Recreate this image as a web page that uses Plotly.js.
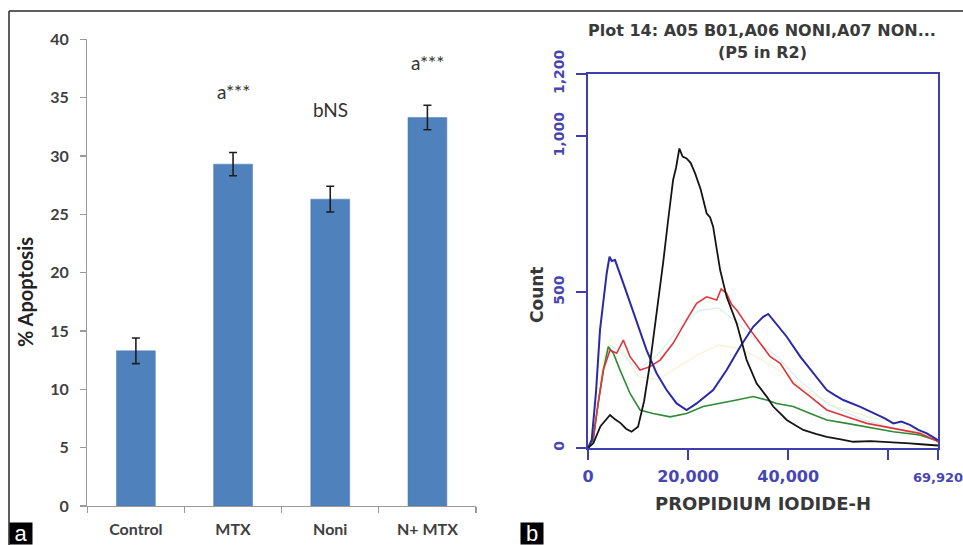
<!DOCTYPE html>
<html><head><meta charset="utf-8">
<script src="https://cdn.plot.ly/plotly-3.0.1.min.js"></script>
<style>body{margin:0;padding:0;background:#fff}#chart{width:963px;height:545px}</style>
</head><body><div id="chart"></div>
<script>
// ---- Panel a: % apoptosis ----
const groups = ["Control", "MTX", "Noni", "N+ MTX"];
const apoptosis = [13.3, 29.3, 26.3, 33.3];
const apoptosisErr = [1.1, 1.0, 1.1, 1.05];
const sigLabels = ["", "a***", "bNS", "a***"];
const sigLevel = [null, 35.5, 34.0, 38.0];
const apoTicks = [0, 5, 10, 15, 20, 25, 30, 35, 40];

// ---- Panel b: PI histogram overlay ----
const piTickVals = [0, 20000, 40000, 60000, 69920];
const piTickText = ["0", "20,000", "40,000", "", "69,920"];
const countTickVals = [0, 500, 1000, 1200];
const countTickText = ["0", "500", "1,000", "1,200"];

const blackX = [0, 1060, 2500, 4400, 5400, 6500, 7600, 8700, 10000, 11200, 12400, 13700, 15000, 16000, 17000, 17600, 18250, 18900, 19700, 20500, 21400, 22500, 23700, 24400, 25000, 25700, 26400, 27700, 29700, 31700, 33700, 35700, 37000, 38400, 39700, 41500, 43000, 45500, 47700, 50500, 53000, 56500, 59700, 62000, 64300, 66500, 68900, 69920];
const blackY = [0, 15, 70, 106, 92, 80, 62, 52, 68, 150, 272, 430, 593, 730, 860, 900, 961, 935, 929, 915, 881, 830, 753, 740, 710, 640, 571, 485, 400, 282, 207, 165, 133, 111, 90, 72, 58, 45, 36, 28, 20, 22, 20, 18, 15, 12, 10, 8];

const blueX = [0, 740, 1600, 2400, 3730, 4300, 4730, 5400, 7060, 9400, 11700, 13700, 15700, 17700, 19700, 21700, 23300, 25000, 27700, 30400, 33000, 35000, 36000, 37000, 39700, 42400, 45000, 47700, 49300, 51000, 54300, 56000, 57700, 59300, 61000, 62600, 64300, 66000, 67700, 69300, 69920];
const blueY = [0, 26, 180, 379, 560, 614, 600, 603, 528, 421, 314, 240, 186, 143, 122, 143, 165, 186, 250, 325, 389, 421, 430, 411, 357, 293, 240, 186, 170, 154, 133, 120, 106, 95, 79, 85, 74, 58, 47, 31, 25];

const redX = [0, 1060, 2000, 3060, 4400, 5730, 7060, 8400, 10400, 12400, 14400, 17000, 19700, 21700, 23700, 25700, 26600, 27700, 28700, 29700, 32400, 34400, 36400, 38400, 41000, 44400, 47700, 51700, 55700, 61000, 66300, 69300, 69920];
const redY = [0, 36, 140, 250, 314, 304, 346, 293, 250, 261, 282, 336, 411, 464, 485, 475, 510, 496, 460, 443, 379, 336, 293, 272, 207, 165, 122, 100, 79, 63, 47, 26, 20];

const greenX = [0, 1060, 2000, 3060, 4060, 5060, 6400, 8400, 10400, 13000, 16400, 19700, 23000, 26400, 29700, 33000, 35700, 37700, 41000, 44400, 47700, 51700, 55700, 61000, 66300, 69300, 69920];
const greenY = [0, 26, 140, 250, 325, 304, 250, 175, 122, 111, 100, 111, 133, 143, 154, 165, 154, 143, 133, 111, 90, 79, 68, 52, 42, 26, 20];

const cyanX = [0, 1000, 3000, 4500, 7000, 10000, 14000, 18000, 22000, 26000, 30000, 34000, 38000, 42000, 48000, 55000, 62000, 69500];
const cyanY = [0, 30, 250, 330, 300, 250, 300, 380, 440, 450, 400, 340, 290, 220, 140, 90, 60, 25];

const yellowX = [0, 1000, 3000, 4500, 7000, 10000, 14000, 18000, 22000, 26000, 30000, 34000, 38000, 44000, 50000, 56000, 62000, 69500];
const yellowY = [0, 30, 280, 350, 310, 230, 220, 260, 300, 330, 320, 290, 250, 180, 130, 100, 80, 30];

const W = 963, H = 545;
const px = v => v / W, py = v => 1 - v / H;

// the last tick label sits at the figure edge; render it a little smaller so it stays inside
const piTickTextShown = piTickText.map((t, i) =>
  i === piTickText.length - 1 ? "<span style='font-size:13px'>" + t + "</span>" : t);

const histLine = (x, y, color, width, name) => ({
  type: "scatter", mode: "lines", x: x, y: y, name: name,
  xaxis: "x2", yaxis: "y2", line: {color: color, width: width}, hoverinfo: "skip"
});

const traces = [
  {
    type: "bar", x: groups, y: apoptosis, xaxis: "x", yaxis: "y",
    marker: {color: "#4F81BD", line: {color: "#4A7AB5", width: 0.5}},
    error_y: {type: "data", array: apoptosisErr, visible: true, color: "#1e1e1e", thickness: 1.6, width: 4},
    hoverinfo: "skip", name: "% Apoptosis"
  },
  histLine(yellowX, yellowY, "#F3F0C0", 1, "A08"),
  histLine(cyanX, cyanY, "#C8EAF4", 1, "A09"),
  histLine(greenX, greenY, "#2F8A35", 1.6, "A07"),
  histLine(redX, redY, "#E0353A", 1.6, "A06"),
  histLine(blueX, blueY, "#2A2AA6", 2, "B01"),
  histLine(blackX, blackY, "#151515", 1.8, "A05")
];

const fA = "Lato, 'Open Sans', sans-serif";
const fB = "'DejaVu Sans', 'Liberation Sans', Arial, sans-serif";
const frameBlue = "#3E3EAE";

const annotations = [];
groups.forEach((g, i) => {
  if (sigLabels[i]) {
    annotations.push({
      xref: "x", yref: "y", x: g, y: sigLevel[i], text: sigLabels[i], showarrow: false,
      xanchor: "center", yanchor: "middle",
      font: {family: fA, size: 19, color: "#333333"}
    });
  }
});
annotations.push(
  {xref: "paper", yref: "paper", x: px(25), y: py(292), xanchor: "center", yanchor: "middle",
   text: "% Apoptosis", textangle: -90, showarrow: false,
   font: {family: fA, size: 20, color: "#222", weight: "bold"}},
  {xref: "paper", yref: "paper", x: px(537), y: py(295), xanchor: "center", yanchor: "middle",
   text: "Count", textangle: -90, showarrow: false,
   font: {family: fB, size: 17, color: "#383838", weight: "bold"}},
  {xref: "paper", yref: "paper", x: px(762), y: py(30), xanchor: "center", yanchor: "middle",
   text: "Plot 14: A05 B01,A06 NONI,A07 NON...",
   showarrow: false, font: {family: fB, size: 16, color: "#3a3a3a", weight: "bold"}},
  {xref: "paper", yref: "paper", x: px(762), y: py(52), xanchor: "center", yanchor: "middle",
   text: "(P5 in R2)",
   showarrow: false, font: {family: fB, size: 16, color: "#3a3a3a", weight: "bold"}},
  {xref: "paper", yref: "paper", x: px(9), y: 0, xanchor: "left", yanchor: "bottom", text: "a",
   showarrow: false, bgcolor: "#000", width: 20, height: 19, borderpad: 1,
   font: {family: "Liberation Sans, Arial, sans-serif", size: 22, color: "#fff"}},
  {xref: "paper", yref: "paper", x: px(520), y: 0, xanchor: "left", yanchor: "bottom", text: "b",
   showarrow: false, bgcolor: "#000", width: 20, height: 19, borderpad: 1,
   font: {family: "Liberation Sans, Arial, sans-serif", size: 22, color: "#fff"}}
);

const layout = {
  width: W, height: H, margin: {l: 0, r: 0, t: 0, b: 0},
  paper_bgcolor: "#fff", plot_bgcolor: "rgba(0,0,0,0)", showlegend: false,
  bargap: 0.6,
  xaxis: {
    domain: [px(87.3), px(476)], type: "category", tickson: "boundaries",
    ticks: "outside", ticklen: 6, tickcolor: "#9a9a9a", tickwidth: 1.3,
    showline: true, linecolor: "#9a9a9a", linewidth: 1.3, showgrid: false, zeroline: false,
    tickfont: {family: fA, size: 16, color: "#404040", weight: "bold"}, ticklabelstandoff: 8, fixedrange: true
  },
  yaxis: {
    domain: [py(506), py(39.3)], range: [0, 40], tickvals: apoTicks,
    ticks: "outside", ticklen: 6, tickcolor: "#9a9a9a", tickwidth: 1.3,
    showline: true, linecolor: "#9a9a9a", linewidth: 1.3, showgrid: false, zeroline: false,
    tickfont: {family: fA, size: 16, color: "#404040", weight: "bold"}, ticklabelstandoff: 8,
    fixedrange: true
  },
  xaxis2: {
    domain: [px(588), px(938)], range: [0, 69920], anchor: "y2",
    tickvals: piTickVals, ticktext: piTickTextShown, ticklabeloverflow: "allow",
    ticks: "outside", ticklen: 10, tickcolor: frameBlue, tickwidth: 2,
    showline: true, mirror: true, linecolor: frameBlue, linewidth: 2, showgrid: false, zeroline: false,
    tickfont: {family: fB, size: 16, color: "#4646B4", weight: "bold"}, ticklabelstandoff: 3,
    title: {text: "PROPIDIUM IODIDE-H", font: {family: fB, size: 18, color: "#383838", weight: "bold"}, standoff: 12},
    fixedrange: true
  },
  yaxis2: {
    domain: [py(448), py(74)], range: [0, 1200], anchor: "x2",
    tickvals: countTickVals, ticktext: countTickText, tickangle: -90,
    ticks: "outside", ticklen: 10, tickcolor: frameBlue, tickwidth: 2,
    showline: true, mirror: true, linecolor: frameBlue, linewidth: 2, showgrid: false, zeroline: false,
    tickfont: {family: fB, size: 14, color: "#4646B4", weight: "bold"}, ticklabelstandoff: 6,
    fixedrange: true
  },
  shapes: [
    {type: "line", xref: "paper", yref: "paper", x0: px(9), x1: 1, y0: py(11), y1: py(11), line: {color: "#2a2a2a", width: 1.5}},
    {type: "line", xref: "paper", yref: "paper", x0: px(9), x1: px(9), y0: 0, y1: py(11), line: {color: "#2a2a2a", width: 1.5}}
  ],
  annotations: annotations
};

Plotly.newPlot("chart", traces, layout, {displayModeBar: false, staticPlot: true});
</script>
</body></html>
